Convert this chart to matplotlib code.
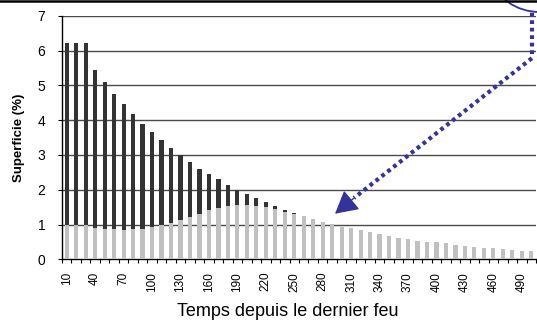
import matplotlib
matplotlib.use("Agg")
import matplotlib.pyplot as plt
from matplotlib.patches import Ellipse
import numpy as np

plt.rcParams["font.family"] = ["Liberation Sans", "DejaVu Sans"]

# time since last fire (years), one class every 10 years
temps = list(range(10, 510, 10))

# total area per age class (%)
total = [6.22, 6.22, 6.22, 5.44, 5.10, 4.75, 4.46, 4.17, 3.89, 3.66,
         3.43, 3.20, 2.99, 2.80, 2.59, 2.45, 2.31, 2.14, 1.98, 1.88,
         1.76, 1.65, 1.53, 1.42, 1.34, 1.24, 1.16, 1.07, 1.01, 0.94,
         0.90, 0.84, 0.78, 0.73, 0.67, 0.61, 0.58, 0.53, 0.50, 0.50,
         0.47, 0.41, 0.38, 0.35, 0.33, 0.33, 0.30, 0.27, 0.24, 0.24]

# equilibrium area per age class (%)
equilibre = [0.99, 0.99, 0.99, 0.91, 0.88, 0.88, 0.85, 0.88, 0.88, 0.94,
             0.99, 1.04, 1.14, 1.22, 1.31, 1.43, 1.47, 1.54, 1.56, 1.56,
             1.54, 1.50, 1.45, 1.37, 1.31, 1.24, 1.16, 1.07, 1.01, 0.94,
             0.90, 0.84, 0.78, 0.73, 0.67, 0.61, 0.58, 0.53, 0.50, 0.50,
             0.47, 0.41, 0.38, 0.35, 0.33, 0.33, 0.30, 0.27, 0.24, 0.24]

W, H = 537, 322
fig = plt.figure(figsize=(W / 100, H / 100), dpi=100)
fig.patch.set_facecolor("white")

ax = fig.add_axes([62 / W, 1 - 259.3 / H, 474 / W, 243.6 / H])
x = np.arange(len(temps))
ax.bar(x, total, width=0.44, color="#333333", zorder=2)
ax.bar(x, equilibre, width=0.44, color="#c0c0c0", zorder=3)

ax.set_xlim(-0.5, len(temps) - 0.5)
ax.set_ylim(0, 7)
ax.set_yticks(range(0, 8))
for v in range(1, 8):
    ax.axhline(v, color="#4a4a4a", lw=1.0, zorder=1)

# labels every third class, tick marks on class boundaries
ax.set_xticks(x[::3])
ax.set_xticklabels([str(t) for t in temps[::3]], rotation=90, fontsize=8.5)
ax.set_xticks(np.arange(-0.5, len(temps)), minor=True)
ax.tick_params(axis="x", which="major", length=0, pad=9)
ax.tick_params(axis="x", which="minor", length=3, width=0.8, color="black")
ax.tick_params(axis="y", length=3, width=0.8, labelsize=10, pad=9)

for side in ("top", "right"):
    ax.spines[side].set_visible(False)
for side in ("left", "bottom"):
    ax.spines[side].set_color("black")
    ax.spines[side].set_linewidth(1.0)

ax.set_ylabel("Superficie (%)", fontsize=9.5, fontweight="bold", labelpad=9)
fig.text(288 / W, 1 - 311 / H, "Temps depuis le dernier feu",
         fontsize=13, ha="center", va="center")

# callout arrow from the panel above: dotted shaft + solid head
navy = "#333399"
dots = dict(color=navy, lw=3.0, linestyle=(0, (0.9, 0.9)), clip_on=False,
            zorder=5, solid_capstyle="butt", dash_capstyle="butt")
ax.plot([49.07, 49.07], [5.9, 7.1], **dots)
ax.plot([49.07, 30.3], [5.78, 1.76], **dots)
ax.annotate("", xy=(28.3, 1.31), xytext=(30.3, 1.76),
            arrowprops=dict(arrowstyle="-|>,head_length=1.0,head_width=0.55",
                            color=navy, lw=1.0, shrinkA=0, shrinkB=0,
                            mutation_scale=14),
            zorder=6, annotation_clip=False)

# edge of the panel above
fig.add_artist(plt.Line2D([0, 1], [1 - 0.8 / H, 1 - 0.8 / H],
                          color="black", lw=1.8, transform=fig.transFigure))
arc = Ellipse((540 / W, 1 + 22 / H), 90 / W, 68 / H, fill=False,
              edgecolor=navy, lw=1.3, transform=fig.transFigure)
fig.add_artist(arc)

fig.savefig("out.png", dpi=100)
